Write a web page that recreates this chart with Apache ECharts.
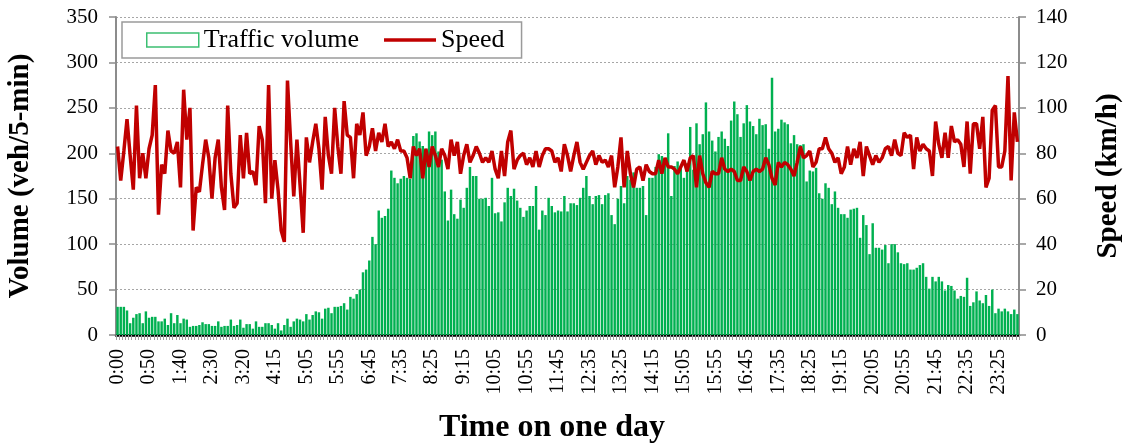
<!DOCTYPE html>
<html>
<head>
<meta charset="utf-8">
<script src="https://cdn.jsdelivr.net/npm/echarts@6/dist/echarts.min.js"></script>
<style>
  html, body { margin: 0; padding: 0; background: #fff; }
  #chart { width: 1126px; height: 446px; }
</style>
</head>
<body>
<div id="chart"></div>
<script>
// 5-minute slots over one day; the 3:50 slot has no record, so 287 slots remain.
const missingSlotMinutes = [230];
const timeSlots = [];
for (let m = 0; m < 1440; m += 5) {
  if (missingSlotMinutes.includes(m)) continue;
  timeSlots.push(Math.floor(m / 60) + ':' + String(m % 60).padStart(2, '0'));
}

// Traffic volume per slot (veh/5-min)
const volume = [
  31,31,31,27,13,19,23,24,13,26,19,20,20,15,15,18,11,24,13,22,13,18,17,9,10,10,11,14,12,12,10,10,15,9,10,10,17,10,11,17,8,12,12,7,15,9,9,13,
  13,11,7,13,5,11,18,9,15,18,17,15,23,17,22,26,25,18,29,30,24,31,31,32,35,28,42,40,45,50,69,72,82,108,100,137,129,131,139,181,173,167,172,175,173,172,219,222,
  213,208,205,224,220,224,202,193,158,126,160,133,128,149,140,162,185,175,175,150,150,151,142,173,134,135,125,146,162,153,161,148,140,130,137,142,142,164,116,137,132,151,142,135,137,136,153,136,
  145,145,143,151,162,175,153,144,153,154,144,154,156,132,122,150,164,145,175,171,179,162,162,164,132,173,173,185,199,197,194,222,153,186,191,186,173,189,229,182,233,210,221,256,224,214,202,218,
  224,216,208,236,257,243,218,233,253,235,230,221,238,231,232,205,283,224,227,237,234,232,211,220,210,209,210,169,181,180,184,156,150,167,162,144,158,140,133,133,129,138,139,140,107,132,121,89,
  123,96,96,94,99,79,100,100,91,79,78,79,72,72,74,77,79,64,51,64,59,64,59,49,55,54,49,40,43,42,63,32,36,48,38,35,44,32,50,24,29,26,29,26,23,28,23
];

// Mean speed per slot (km/h)
const speed = [
  83,68,81,95,79,64,101,69,80,69,82,88,110,53,75,71,90,81,80,85,65,108,86,100,46,65,63,75,86,78,60,78,86,65,55,101,71,56,58,88,69,89,71,72,66,92,86,58,
  110,60,77,64,46,41,112,85,61,86,66,45,87,76,85,93,82,64,96,79,71,100,83,71,103,88,87,69,93,88,98,79,83,91,81,89,85,93,83,85,82,86,81,81,78,69,83,79,
  82,69,82,74,83,79,74,82,79,73,86,79,85,71,79,84,76,79,83,80,76,78,76,81,73,69,81,70,85,90,73,77,79,80,75,78,74,81,74,79,82,82,81,76,78,72,84,79,
  72,79,85,76,73,76,79,81,75,79,76,77,74,79,65,74,87,65,81,71,65,73,74,68,75,72,71,71,77,71,78,74,74,73,71,74,77,72,78,79,65,79,71,67,65,72,71,71,
  78,73,72,73,72,68,68,74,72,68,72,73,72,73,78,75,69,66,76,74,76,75,73,70,76,83,78,79,81,74,76,82,82,87,82,80,76,78,71,74,83,75,82,78,85,70,83,79,
  75,79,76,78,82,83,79,86,80,79,89,87,88,73,87,81,84,82,81,70,94,84,78,89,78,92,85,86,84,74,94,71,93,93,82,96,65,69,99,101,74,74,81,114,68,98,85
];

const FONT = 'Liberation Serif';
const AXIS_GRAY = '#8c8c8c';
const SPEED_RED = '#C00000';

const chart = echarts.init(document.getElementById('chart'), null, { renderer: 'canvas' });

chart.setOption({
  animation: false,
  backgroundColor: '#fff',
  textStyle: { fontFamily: FONT, color: '#000' },
  grid: { left: 116, right: 107, top: 17, bottom: 111, containLabel: false, outerBoundsMode: 'none' },
  legend: {
    left: 122, top: 22,
    orient: 'horizontal',
    backgroundColor: '#fff',
    borderColor: '#9a9a9a',
    borderWidth: 1.5,
    borderRadius: 0,
    padding: [5, 17, 5, 24],
    itemGap: 25,
    itemWidth: 52,
    itemHeight: 14,
    textStyle: { fontFamily: FONT, fontSize: 26, color: '#000' },
    data: [
      { name: 'Traffic volume', icon: 'rect',
        itemStyle: { color: '#fff', borderColor: '#3cbf72', borderWidth: 1.5 } },
      { name: 'Speed', icon: 'path://M0,0 L52,0 L52,3.5 L0,3.5 Z',
        itemStyle: { color: SPEED_RED, borderWidth: 0 } }
    ]
  },
  xAxis: [
    {
      type: 'category',
      data: timeSlots,
      boundaryGap: true,
      axisLine: { show: true, lineStyle: { color: AXIS_GRAY, width: 2 } },
      axisTick: { show: true, interval: 0, length: 5, lineStyle: { color: '#a0a0a0', width: 1 } },
      axisLabel: {
        interval: 9, rotate: 90, margin: 14,
        fontFamily: FONT, fontSize: 20, color: '#000'
      },
      splitLine: { show: false }
    },
    {
      type: 'category',
      data: timeSlots,
      position: 'top',
      axisLine: { show: true, lineStyle: { color: '#000', width: 2.5 } },
      axisTick: { show: false },
      axisLabel: { show: false },
      splitLine: { show: false }
    }
  ],
  yAxis: [
    {
      type: 'value',
      min: 0, max: 350, interval: 50,
      name: 'Volume (veh/5-min)',
      nameLocation: 'middle',
      nameGap: 81,
      nameRotate: 90,
      nameTextStyle: { fontFamily: FONT, fontSize: 29, fontWeight: 'bold', color: '#000' },
      axisLine: { show: true, lineStyle: { color: AXIS_GRAY, width: 2 } },
      axisTick: { show: true, inside: false, length: 7, lineStyle: { color: AXIS_GRAY, width: 1.5 } },
      axisLabel: { margin: 18, fontFamily: FONT, fontSize: 21, color: '#000' },
      splitLine: { show: true, lineStyle: { color: '#a6a6a6', type: [2, 2], width: 1 } }
    },
    {
      type: 'value',
      min: 0, max: 140, interval: 20,
      name: 'Speed (km/h)',
      nameLocation: 'middle',
      nameGap: 75,
      nameRotate: 90,
      nameTextStyle: { fontFamily: FONT, fontSize: 29, fontWeight: 'bold', color: '#000' },
      axisLine: { show: true, lineStyle: { color: AXIS_GRAY, width: 2 } },
      axisTick: { show: true, inside: false, length: 7, lineStyle: { color: AXIS_GRAY, width: 1.5 } },
      axisLabel: { margin: 17, fontFamily: FONT, fontSize: 21, color: '#000' },
      splitLine: { show: false }
    }
  ],
  graphic: [
    {
      type: 'text',
      style: {
        text: 'Time on one day',
        x: 552, y: 428,
        align: 'center', verticalAlign: 'middle',
        font: 'bold 32px "Liberation Serif"',
        fill: '#000'
      }
    }
  ],
  series: [
    {
      name: 'Traffic volume',
      type: 'bar',
      xAxisIndex: 0, yAxisIndex: 0,
      data: volume,
      barCategoryGap: '22%',
      itemStyle: { color: '#00B050', borderWidth: 0 },
      z: 2
    },
    {
      name: 'Speed',
      type: 'line',
      xAxisIndex: 0, yAxisIndex: 1,
      data: speed,
      symbol: 'none',
      showSymbol: false,
      lineStyle: { color: SPEED_RED, width: 3.5 },
      itemStyle: { color: SPEED_RED },
      z: 3
    }
  ]
});
</script>
</body>
</html>
